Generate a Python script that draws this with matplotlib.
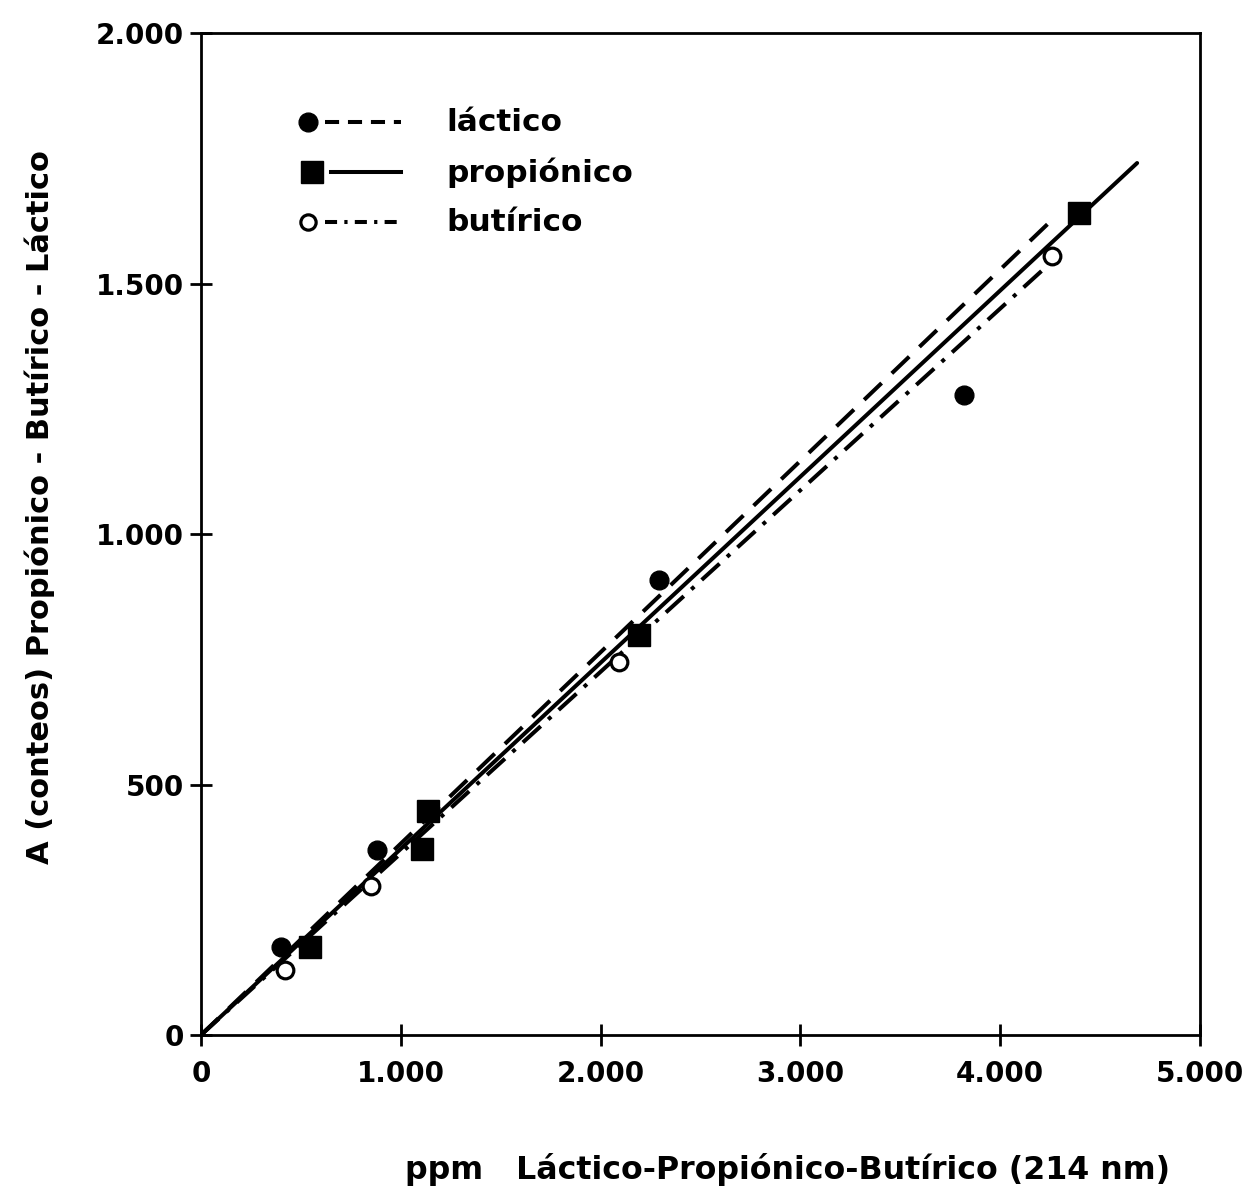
import matplotlib
matplotlib.use("Agg")
import matplotlib.pyplot as plt
import numpy as np

# ---- data ----
lact_x = [400, 880, 2290, 3820]
lact_y = [176, 369, 908, 1277]
prop_x = [545, 1105, 1135, 2190, 4395]
prop_y = [176, 371, 447, 798, 1641]
buti_x = [420, 850, 2090, 4260]
buti_y = [130, 297, 744, 1555]

# fitted regression lines (start x, end x, slope)
lact_fit = (0, 4260, 0.3820)
prop_fit = (0, 4685, 0.3715)
buti_fit = (0, 4230, 0.3625)

xticks = [0, 1000, 2000, 3000, 4000, 5000]
xtick_labels = ["0", "1.000", "2.000", "3.000", "4.000", "5.000"]
yticks = [0, 500, 1000, 1500, 2000]
ytick_labels = ["0", "500", "1.000", "1.500", "2.000"]

series_names = ["láctico", "propiónico", "butírico"]
xlabel = "ppm   Láctico-Propiónico-Butírico (214 nm)"
ylabel = "A (conteos) Propiónico - Butírico - Láctico"

plt.rcParams['font.family'] = ['DejaVu Sans']
plt.rcParams['font.weight'] = 'bold'

fig = plt.figure(figsize=(12.45, 11.96), dpi=100)
ax = fig.add_axes([0.1614, 0.1346, 0.8025, 0.8378])

lw = 2.9
def fitline(f):
    x0, x1, m = f
    xs = np.array([x0, x1])
    return xs, m * xs

xs, ys = fitline(lact_fit)
ax.plot(xs, ys, color='black', lw=lw, dashes=(6, 3.5), solid_capstyle='butt')
xs, ys = fitline(prop_fit)
ax.plot(xs, ys, color='black', lw=lw, solid_capstyle='round')
xs, ys = fitline(buti_fit)
ax.plot(xs, ys, color='black', lw=lw, dashes=(6, 2.5, 1, 2.5))

ax.plot(lact_x, lact_y, 'o', color='black', ms=13.5, zorder=5)
ax.plot(prop_x, prop_y, 's', color='black', ms=16, zorder=5)
ax.plot(buti_x, buti_y, 'o', mfc='white', mec='black', mew=2.3, ms=12, zorder=5)

ax.set_xlim(0, 5000)
ax.set_ylim(0, 2000)
ax.set_xticks(xticks)
ax.set_xticklabels(xtick_labels)
ax.set_yticks(yticks)
ax.set_yticklabels(ytick_labels)
ax.tick_params(direction='inout', length=16, width=2, labelsize=20, pad=4)
ax.tick_params(axis='x', pad=10)
for s in ax.spines.values():
    s.set_linewidth(2)

# manual legend
ly = [0.911, 0.861, 0.811]
tr = ax.transAxes
ax.plot([0.107], [ly[0]], 'o', color='black', ms=13.5, transform=tr)
ax.plot([0.124, 0.2], [ly[0]] * 2, color='black', lw=lw, dashes=(3.5, 2.2), transform=tr)
ax.plot([0.111], [ly[1]], 's', color='black', ms=16, transform=tr)
ax.plot([0.13, 0.2], [ly[1]] * 2, color='black', lw=lw, transform=tr)
ax.plot([0.107], [ly[2]], 'o', mfc='white', mec='black', mew=2.3, ms=11, transform=tr)
ax.plot([0.124, 0.2], [ly[2]] * 2, color='black', lw=lw, dashes=(3, 1.8, 0.8, 1.8), transform=tr)
for name, y in zip(series_names, ly):
    ax.text(0.246, y, name, transform=tr, fontsize=22.5, va='center', ha='left')

fig.text(0.9395, 1 - 1170 / 1196, xlabel, fontsize=22.8, ha='right', va='center')
fig.text(40 / 1245, 1 - 507 / 1196, ylabel, fontsize=22, ha='center', va='center', rotation=90)

fig.savefig("out.png", dpi=100, facecolor='white')
